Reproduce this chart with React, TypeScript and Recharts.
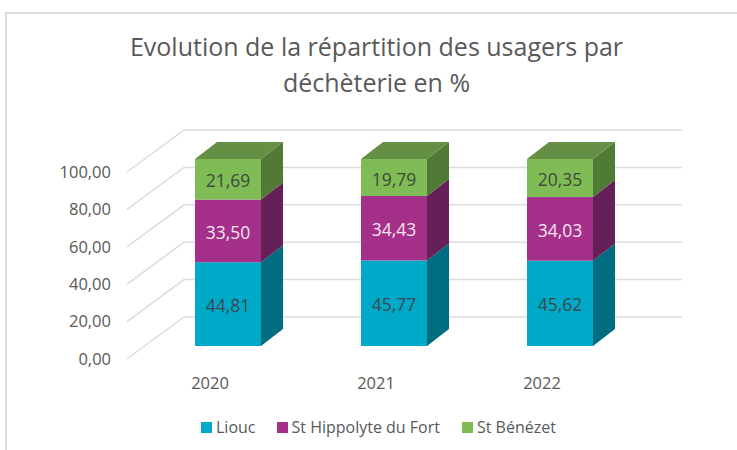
import React from 'react';
import { BarChart, Bar, XAxis, YAxis, CartesianGrid, Legend, LabelList } from 'recharts';

const years = ['2020', '2021', '2022'];
const liouc = [44.81, 45.77, 45.62];
const hippolyte = [33.5, 34.43, 34.03];
const benezet = [21.69, 19.79, 20.35];
const yTicks = [0, 20, 40, 60, 80, 100];
const titleLines = ['Evolution de la répartition des usagers par', 'déchèterie en %'];

const data = years.map((year, i) => ({
  year,
  liouc: liouc[i],
  hippolyte: hippolyte[i],
  benezet: benezet[i],
}));

const FONT = '"Open Sans", "Noto Sans", sans-serif';
const GRID = '#dcdcdc';
const TEXT = '#595959';
// 3D projection of the Excel chart
const WALL_X = 57;
const WALL_Y = 42;
const BAR_X = 18;
const BAR_Y = 13;
const DEPTH_X = 22;
const DEPTH_Y = 17;

const fmt = (v: number) => v.toFixed(2).replace('.', ',');

const makeShape = (front: string, side: string, top?: string) => (props: any) => {
  const { x, y, width, height } = props;
  const l = x + BAR_X;
  const t = y - BAR_Y;
  const r = l + width;
  const b = t + height;
  return (
    <g>
      <polygon
        points={`${r},${t} ${r + DEPTH_X},${t - DEPTH_Y} ${r + DEPTH_X},${b - DEPTH_Y} ${r},${b}`}
        fill={side}
      />
      {top && (
        <polygon
          points={`${l},${t} ${l + DEPTH_X},${t - DEPTH_Y} ${r + DEPTH_X},${t - DEPTH_Y} ${r},${t}`}
          fill={top}
        />
      )}
      <rect x={l} y={t} width={width} height={height} fill={front} />
    </g>
  );
};

const makeLabel = (color: string) => (props: any) => {
  const { x, y, width, height, value } = props;
  return (
    <text
      x={x + BAR_X + width / 2}
      y={y - BAR_Y + height / 2 + 1}
      textAnchor="middle"
      dominantBaseline="central"
      fill={color}
      fontSize={17.5}
      fontFamily={FONT}
    >
      {fmt(value)}
    </text>
  );
};

const gridLine = (props: any) => {
  const { x1, y1, x2 } = props;
  return (
    <polyline
      key={`g-${y1}`}
      points={`${x1},${y1} ${x1 + WALL_X},${y1 - WALL_Y} ${x2 + WALL_X},${y1 - WALL_Y}`}
      fill="none"
      stroke={GRID}
      strokeWidth={1.5}
    />
  );
};

const legendGaps = [21, 22, 0];
const renderLegend = (props: any) => (
  <div style={{ display: 'flex', alignItems: 'center', fontFamily: FONT, fontSize: 16, color: TEXT }}>
    {props.payload.map((item: any, i: number) => (
      <div key={item.value} style={{ display: 'flex', alignItems: 'center', marginRight: legendGaps[i], whiteSpace: 'nowrap' }}>
        <span style={{ width: 11, height: 11, background: item.color, marginRight: 4, display: 'inline-block' }} />
        {item.value}
      </div>
    ))}
  </div>
);

export default function App() {
  return (
    <div style={{ position: 'absolute', left: 0, top: 0, width: 737, height: 450, background: '#fff', overflow: 'hidden' }}>
      <div style={{ position: 'absolute', left: 5, top: 12, width: 740, height: 450, borderLeft: `2px solid ${GRID}`, borderTop: `2px solid ${GRID}` }} />
      {titleLines.map((line, i) => (
        <div
          key={line}
          style={{
            position: 'absolute', left: 0, width: 753, top: 28 + i * 35.5, textAlign: 'center',
            fontFamily: FONT, fontSize: 25, lineHeight: '36px', color: TEXT, whiteSpace: 'nowrap',
          }}
        >
          {line}
        </div>
      ))}
      <BarChart
        width={737}
        height={450}
        data={data}
        margin={{ top: 172, right: 112, bottom: 31, left: 0 }}
        style={{ position: 'absolute', left: 0, top: 0 }}
      >
        <CartesianGrid vertical={false} horizontal={gridLine} />
        <XAxis
          dataKey="year"
          height={60}
          axisLine={false}
          tickLine={false}
          tickMargin={12}
          tick={{ fill: TEXT, fontSize: 16.5, fontFamily: FONT }}
        />
        <YAxis
          width={127}
          domain={[0, 100]}
          ticks={yTicks}
          tickFormatter={fmt}
          axisLine={false}
          tickLine={false}
          tickMargin={10}
          tick={{ fill: TEXT, fontSize: 16.5, fontFamily: FONT }}
        />
        <Legend
          layout="horizontal"
          verticalAlign="middle"
          itemSorter={null}
          content={renderLegend}
          wrapperStyle={{ left: 201, top: 416, width: 420, height: 20 }}
        />
        <Bar dataKey="liouc" name="Liouc" stackId="a" fill="#00A9C8" barSize={66} isAnimationActive={false}
          shape={makeShape('#00A9C8', '#006E80')}>
          <LabelList dataKey="liouc" content={makeLabel('#3a4a50')} />
        </Bar>
        <Bar dataKey="hippolyte" name="St Hippolyte du Fort" stackId="a" fill="#A43089" barSize={66} isAnimationActive={false}
          shape={makeShape('#A43089', '#662058')}>
          <LabelList dataKey="hippolyte" content={makeLabel('#f4e6f0')} />
        </Bar>
        <Bar dataKey="benezet" name="St Bénézet" stackId="a" fill="#7FBC56" barSize={66} isAnimationActive={false}
          shape={makeShape('#7FBC56', '#527A37', '#648F44')}>
          <LabelList dataKey="benezet" content={makeLabel('#3f4a38')} />
        </Bar>
      </BarChart>
    </div>
  );
}
